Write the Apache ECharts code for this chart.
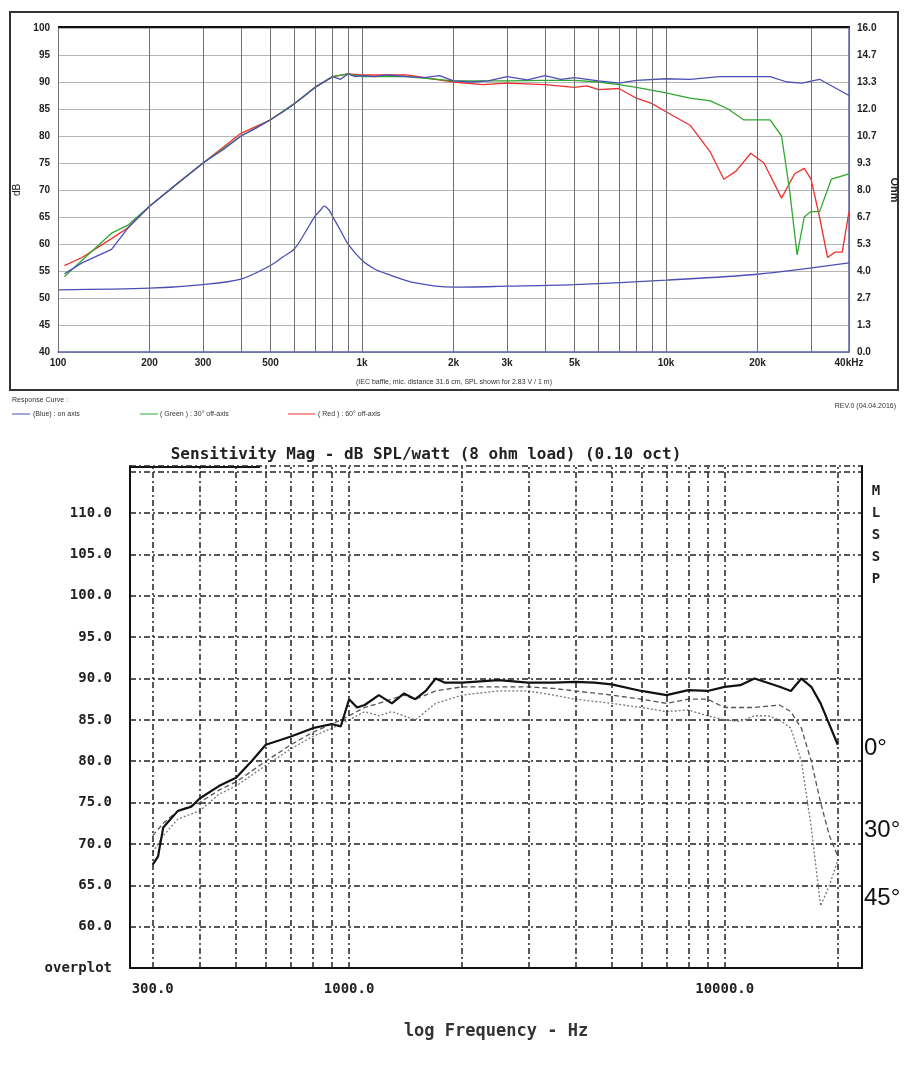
<!DOCTYPE html><html><head><meta charset="utf-8">
<script src="https://cdn.jsdelivr.net/npm/echarts@6/dist/echarts.min.js"></script>
<style>html,body{margin:0;padding:0;background:#fff}#c{width:908px;height:1065px}</style></head><body><div id="c"></div>
<script>
// ---- Top chart data ----
const topBlueF=[105,120,150,170,200,250,300,350,400,450,500,550,600,650,700,750,800,850,900,950,1000,1100,1200,1400,1600,1800,2000,2300,2600,3000,3500,4000,4500,5000,6000,7000,8000,10000,12000,15000,20000,22000,25000,28000,32000,40000];
const topBlueV=[54.5,56.5,59,63,67,71.5,75,77.5,80,81.5,83,84.5,86,87.5,89,90,91,90.5,91.5,91,91.2,91,91.3,91,90.8,91.2,90.2,90,90.2,91,90.4,91.2,90.5,90.8,90.2,89.8,90.3,90.6,90.5,91,91,91,90,89.8,90.5,87.5];
const topGreenF=[105,120,150,170,200,300,400,500,600,700,800,900,1000,1400,2000,3000,4000,5000,6000,7000,8000,10000,12000,14000,16000,18000,20000,22000,24000,25500,27000,28500,30000,32000,35000,40000];
const topGreenV=[54,57,62,63.5,67,75,80,83,86,89,91,91.5,91,91,90.2,90.2,90.3,90.3,90,89.5,89,88,87,86.5,85,83,83,83,80,70,58,65,66,66,72,73];
const topRedF=[105,120,150,170,200,300,400,500,600,700,800,900,1000,1400,2000,2500,3000,4000,5000,5500,6000,7000,8000,9000,10000,12000,14000,15500,17000,19000,21000,24000,26500,28500,30000,32000,34000,36000,38000,40000];
const topRedV=[56,57.5,61,63,67,75,80.5,83,86,89,91,91.5,91.3,91.3,90,89.5,89.8,89.5,89,89.3,88.6,88.8,87,86,84.5,82,77,72,73.5,76.8,75,68.5,73,74,72,65,57.5,58.5,58.5,66];
const impF=[100,200,300,400,500,550,600,650,700,730,750,780,800,850,900,1000,1100,1200,1500,2000,3000,5000,10000,20000,40000];
const impV=[3.07,3.15,3.33,3.6,4.27,4.7,5.1,5.9,6.7,7.0,7.2,7.0,6.7,6.0,5.33,4.53,4.1,3.87,3.41,3.2,3.25,3.33,3.55,3.84,4.4];
const topYTicks=[40,45,50,55,60,65,70,75,80,85,90,95,100];
const topXGrid=[100,200,300,400,500,600,700,800,900,1000,2000,3000,4000,5000,6000,7000,8000,9000,10000,20000,30000,40000];
const topXLabels={100:'100',200:'200',300:'300',500:'500',1000:'1k',2000:'2k',3000:'3k',5000:'5k',10000:'10k',20000:'20k',40000:'40kHz'};
// ---- Bottom chart data ----
const botF0=[300,310,320,350,380,400,450,500,550,600,650,700,800,900,950,1000,1050,1100,1200,1300,1400,1500,1600,1700,1800,2000,2500,3000,3500,4000,4500,5000,6000,7000,8000,9000,10000,11000,12000,13000,14000,15000,16000,17000,18000,20000];
const botV0=[67.5,68.5,72,74,74.5,75.5,77,78,80,82,82.5,83,84,84.5,84.2,87.5,86.5,86.8,88,87,88.2,87.5,88.5,90,89.5,89.5,89.8,89.5,89.5,89.6,89.5,89.3,88.5,88,88.6,88.5,89,89.2,90,89.5,89,88.5,90,89,87,82];
const botF30=[300,320,350,400,450,500,600,700,800,900,1000,1100,1200,1400,1500,1700,2000,2500,3000,3500,4000,5000,6000,7000,8000,9000,10000,12000,14000,15000,16000,17000,18000,19000,20000];
const botV30=[71,72.5,74,75,76.5,77.5,80,82,83.5,84.5,85.5,86.5,87,88,87.5,88.5,89,89,89,88.8,88.5,88,87.5,87,87.5,87.5,86.5,86.5,86.8,86,84,80,75,71,68.5];
const botF45=[300,320,350,400,450,500,600,700,800,900,1000,1100,1200,1300,1500,1700,2000,2500,3000,3500,4000,5000,6000,7000,8000,9000,10000,11000,12000,13000,14000,15000,16000,17000,18000,19000,20000];
const botV45=[69,71,73,74,76,77,79.5,81.5,83,84,85,86,85.5,86,85,87,88,88.5,88.5,88,87.5,87,86.5,86,86.2,85.5,85,84.8,85.5,85.5,85,84,80,72,62.5,65,68];
const botYTicks=[55,60,65,70,75,80,85,90,95,100,105,110];
const botXGrid=[300,400,500,600,700,800,900,1000,2000,3000,4000,5000,6000,7000,8000,9000,10000,20000];
const botXLabels={300:'300.0',1000:'1000.0',10000:'10000.0'};

const zip=(f,v)=>f.map((x,i)=>[x,v[i]]);
const mono='"DejaVu Sans Mono",monospace';
const chart=echarts.init(document.getElementById('c'));
chart.setOption({
 animation:false,
 grid:[{left:58,right:58,top:28,height:324},{left:130,right:46,top:466,height:502}],
 xAxis:[
  {type:'log',gridIndex:0,min:100,max:40000,axisLabel:{show:false},axisTick:{show:false},splitLine:{show:false},minorSplitLine:{show:false},axisLine:{lineStyle:{color:'#5a5fb0',width:1.5}}},
  {type:'log',gridIndex:1,min:261,max:23200,axisLabel:{show:false},axisTick:{show:false},splitLine:{show:false},axisLine:{lineStyle:{color:'#111',width:2}},
   name:'log Frequency - Hz',nameLocation:'middle',nameGap:55,nameTextStyle:{fontFamily:mono,fontWeight:'bold',fontSize:17,color:'#333'}}
 ],
 yAxis:[
  {type:'value',gridIndex:0,min:40,max:100,interval:5,name:'dB',nameLocation:'middle',nameGap:34,nameTextStyle:{fontSize:10,color:'#222'},
   axisLabel:{fontSize:10,fontWeight:'bold',color:'#222',fontFamily:'Arial'},axisTick:{show:false},axisLine:{show:true,lineStyle:{color:'#333'}},splitLine:{lineStyle:{color:'#b5b5b5',width:1.2}}},
  {type:'value',gridIndex:0,position:'right',min:0,max:16,interval:16/12,name:'Ohm',nameLocation:'middle',nameGap:40,nameRotate:-90,nameTextStyle:{fontSize:11,fontWeight:'bold',color:'#222'},
   axisLabel:{fontSize:10,fontWeight:'bold',color:'#222',fontFamily:'Arial',formatter:v=>v.toFixed(1)},axisTick:{show:false},axisLine:{show:true,lineStyle:{color:'#5a5fb0',width:1.5}},splitLine:{show:false}},
  {type:'value',gridIndex:1,min:55,max:115.7,interval:5,
   axisLabel:{fontFamily:mono,fontWeight:'bold',fontSize:14,color:'#222',margin:18,formatter:v=>v===55?'overplot':(v>110?'':v.toFixed(1))},
   axisTick:{show:false},axisLine:{show:true,lineStyle:{color:'#111',width:2}},
   splitLine:{lineStyle:{color:'#222',type:[6,3,2,3],width:1.5}}},
  {type:'value',gridIndex:1,position:'right',min:55,max:115.7,axisLabel:{show:false},axisTick:{show:false},splitLine:{show:false},axisLine:{show:true,lineStyle:{color:'#111',width:2}}}
 ],
 series:[
  {type:'line',xAxisIndex:0,yAxisIndex:0,data:zip(topBlueF,topBlueV),showSymbol:false,lineStyle:{color:'#4b4fb5',width:1.3},z:3,
   markLine:{silent:true,symbol:'none',animation:false,lineStyle:{color:'#707070',type:'solid',width:1},
    label:{show:true,position:'start',distance:6,fontSize:10,fontWeight:'bold',color:'#222',fontFamily:'Arial'},
    data:topXGrid.map(f=>({xAxis:f,label:{formatter:topXLabels[f]||''}}))}},
  {type:'line',xAxisIndex:0,yAxisIndex:0,data:zip(topGreenF,topGreenV),showSymbol:false,lineStyle:{color:'#2ea82e',width:1.3},z:2},
  {type:'line',xAxisIndex:0,yAxisIndex:0,data:zip(topRedF,topRedV),showSymbol:false,lineStyle:{color:'#ee3030',width:1.3},z:1},
  {type:'line',xAxisIndex:0,yAxisIndex:1,data:zip(impF,impV),showSymbol:false,smooth:0.3,lineStyle:{color:'#4b4fb5',width:1.3}},
  {type:'line',xAxisIndex:1,yAxisIndex:2,data:zip(botF0,botV0),showSymbol:false,lineStyle:{color:'#111',width:2.2},z:3,
   markLine:{silent:true,symbol:'none',animation:false,lineStyle:{color:'#222',type:[6,3,2,3],width:1.5},
    label:{show:true,position:'start',distance:14,fontSize:14,fontWeight:'bold',color:'#222',fontFamily:mono},
    data:botXGrid.map(f=>({xAxis:f,label:{formatter:botXLabels[f]||''}}))}},
  {type:'line',xAxisIndex:1,yAxisIndex:2,data:zip(botF30,botV30),showSymbol:false,lineStyle:{color:'#555',width:1.3,type:[5,3]},z:2},
  {type:'line',xAxisIndex:1,yAxisIndex:2,data:zip(botF45,botV45),showSymbol:false,lineStyle:{color:'#777',width:1.3,type:[2,2]},z:1}
 ],
 graphic:[
  {type:'rect',shape:{x:10,y:12,width:888,height:378},style:{fill:'none',stroke:'#333',lineWidth:2}},
  {type:'rect',shape:{x:58,y:26,width:792,height:3},style:{fill:'#111'}},
  {type:'text',x:454,y:382,style:{text:'(IEC baffle, mic. distance 31.6 cm, SPL shown for 2.83 V / 1 m)',fontSize:7,fill:'#333',align:'center',verticalAlign:'middle'}},
  {type:'text',x:12,y:400,style:{text:'Response Curve :',fontSize:7,fill:'#333',verticalAlign:'middle'}},
  {type:'line',shape:{x1:12,y1:414,x2:30,y2:414},style:{stroke:'#4b4fb5',lineWidth:1}},
  {type:'text',x:33,y:414,style:{text:'(Blue) : on axis',fontSize:7,fill:'#333',verticalAlign:'middle'}},
  {type:'line',shape:{x1:140,y1:414,x2:158,y2:414},style:{stroke:'#2ea82e',lineWidth:1}},
  {type:'text',x:160,y:414,style:{text:'( Green ) : 30° off-axis',fontSize:7,fill:'#333',verticalAlign:'middle'}},
  {type:'line',shape:{x1:288,y1:414,x2:315,y2:414},style:{stroke:'#ee3030',lineWidth:1}},
  {type:'text',x:318,y:414,style:{text:'( Red ) : 60° off-axis',fontSize:7,fill:'#333',verticalAlign:'middle'}},
  {type:'text',x:896,y:406,style:{text:'REV.0 (04.04.2016)',fontSize:7,fill:'#333',align:'right',verticalAlign:'middle'}},
  {type:'text',x:426,y:455,style:{text:'Sensitivity Mag - dB SPL/watt (8 ohm load) (0.10 oct)',fontFamily:mono,fontWeight:'bold',fontSize:16,fill:'#222',align:'center',verticalAlign:'middle'}},
  {type:'line',shape:{x1:130,y1:467,x2:260,y2:467},style:{stroke:'#111',lineWidth:2}},
  {type:'text',x:876,y:535,style:{text:'M\nL\nS\nS\nP',fontFamily:mono,fontWeight:'bold',fontSize:14,lineHeight:22,fill:'#222',align:'center',verticalAlign:'middle'}},
  {type:'text',x:864,y:748,style:{text:'0°',fontFamily:'Arial',fontSize:24,fill:'#111',verticalAlign:'middle'}},
  {type:'text',x:864,y:830,style:{text:'30°',fontFamily:'Arial',fontSize:24,fill:'#111',verticalAlign:'middle'}},
  {type:'text',x:864,y:898,style:{text:'45°',fontFamily:'Arial',fontSize:24,fill:'#111',verticalAlign:'middle'}}
 ]
});
</script></body></html>
